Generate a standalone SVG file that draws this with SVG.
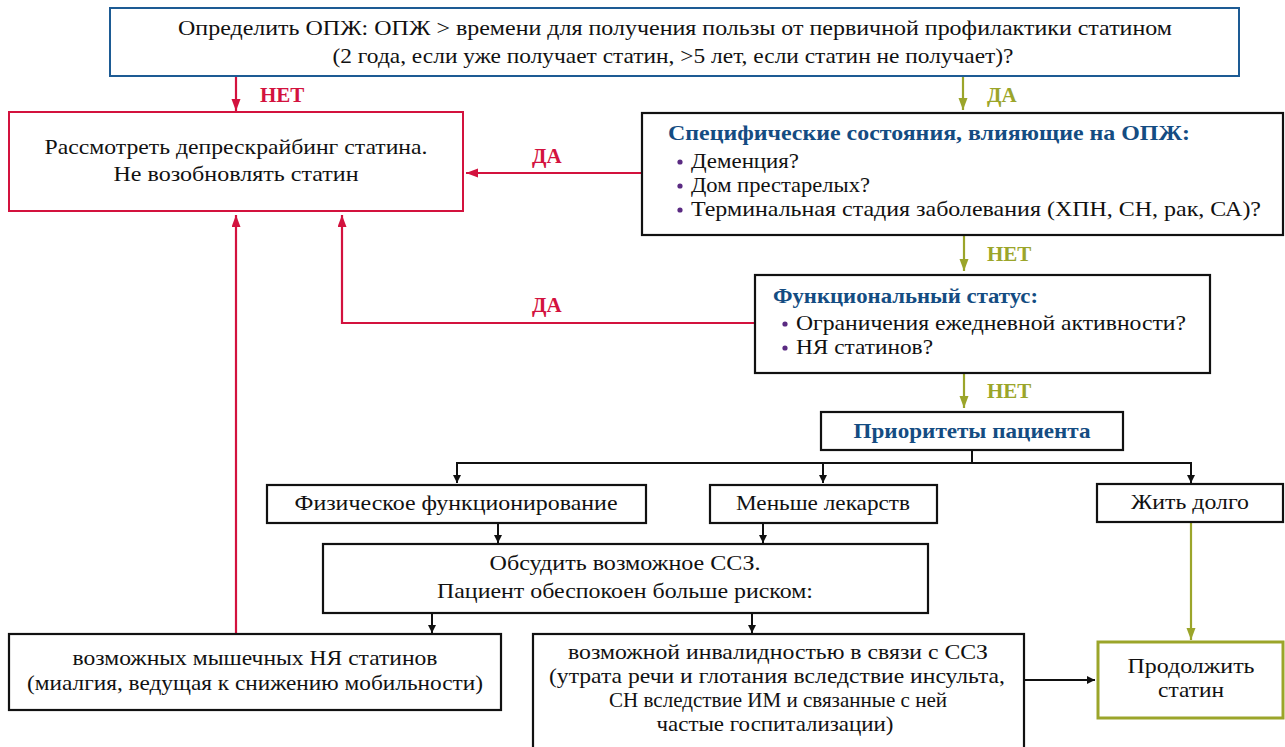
<svg xmlns="http://www.w3.org/2000/svg" width="1285" height="747" viewBox="0 0 1285 747" font-family="'Liberation Serif', 'DejaVu Serif', serif">
<style>
text{font-family:'Liberation Serif','DejaVu Serif',serif;font-size:21px;fill:#111}
.c{text-anchor:middle}
.box{fill:#fff;stroke:#111;stroke-width:2.2}
.red{fill:#fff;stroke:#d3123e;stroke-width:2}
.blue{fill:#fff;stroke:#1d5b94;stroke-width:2}
.grn{fill:#fff;stroke:#9ba52a;stroke-width:3}
.t{font-weight:bold;fill:#144c82}
.lr{font-weight:bold;fill:#d3123e}
.lg{font-weight:bold;fill:#9ba52a}
.dot{fill:#5a2a82}
.k{fill:none;stroke:#111;stroke-width:2}
.r{fill:none;stroke:#d3123e;stroke-width:2.2}
.g{fill:none;stroke:#9ba52a;stroke-width:2.2}
</style>
<defs>
<marker id="ak" markerWidth="10" markerHeight="10" refX="8" refY="4" orient="auto" markerUnits="userSpaceOnUse"><path d="M0,0 L8,4 L0,8 z" fill="#111"/></marker>
<marker id="ar" markerWidth="14" markerHeight="10" refX="12" refY="4.5" orient="auto" markerUnits="userSpaceOnUse"><path d="M0,0 L12,4.5 L0,9 z" fill="#d3123e"/></marker>
<marker id="ag" markerWidth="14" markerHeight="10" refX="12" refY="4.5" orient="auto" markerUnits="userSpaceOnUse"><path d="M0,0 L12,4.5 L0,9 z" fill="#9ba52a"/></marker>
</defs>

<g id="connectors">
<path class="r" d="M236,76 V111" marker-end="url(#ar)"/>
<path class="g" d="M963,76 V110" marker-end="url(#ag)"/>
<path class="r" d="M642,173 H466" marker-end="url(#ar)"/>
<path class="g" d="M964,235 V271" marker-end="url(#ag)"/>
<path class="r" d="M755,323 H342 V215" marker-end="url(#ar)"/>
<path class="g" d="M964,373 V408" marker-end="url(#ag)"/>
<path class="k" d="M972,450 V463"/>
<path class="k" d="M456,463 H1192"/>
<path class="k" d="M457,463 V483" marker-end="url(#ak)"/>
<path class="k" d="M823,463 V483" marker-end="url(#ak)"/>
<path class="k" d="M1191,463 V483" marker-end="url(#ak)"/>
<path class="k" d="M498,523 V543" marker-end="url(#ak)"/>
<path class="k" d="M763,523 V543" marker-end="url(#ak)"/>
<path class="k" d="M432,613 V633" marker-end="url(#ak)"/>
<path class="k" d="M752,613 V633" marker-end="url(#ak)"/>
<path class="k" d="M1024,680 H1095" marker-end="url(#ak)"/>
<path class="g" d="M1191,522 V640" marker-end="url(#ag)"/>
<path class="r" d="M236,634 V215" marker-end="url(#ar)"/>
<text class="lr" x="260" y="102">НЕТ</text>
<text class="lg" x="987" y="102">ДА</text>
<text class="lr" x="532" y="163">ДА</text>
<text class="lg" x="987" y="261">НЕТ</text>
<text class="lr" x="532" y="312">ДА</text>
<text class="lg" x="987" y="398">НЕТ</text>
</g>

<g id="top">
<rect class="blue" x="110" y="8" width="1129" height="68"/>
<text class="c" x="675" y="35" textLength="994" lengthAdjust="spacingAndGlyphs">Определить ОПЖ: ОПЖ &gt; времени для получения пользы от первичной профилактики статином</text>
<text class="c" x="673" y="63" textLength="681" lengthAdjust="spacingAndGlyphs">(2 года, если уже получает статин, &gt;5 лет, если статин не получает)?</text>
</g>

<g id="deprescribe">
<rect class="red" x="9" y="112" width="454" height="99"/>
<text class="c" x="236" y="154" textLength="383" lengthAdjust="spacingAndGlyphs">Рассмотреть депрескрайбинг статина.</text>
<text class="c" x="236" y="181" textLength="245" lengthAdjust="spacingAndGlyphs">Не возобновлять статин</text>
</g>

<g id="specific">
<rect class="box" x="642" y="113" width="641" height="122"/>
<text class="t" x="668" y="140" textLength="522" lengthAdjust="spacingAndGlyphs">Специфические состояния, влияющие на ОПЖ:</text>
<circle class="dot" cx="680" cy="162" r="2.6"/>
<text x="691" y="168" textLength="108" lengthAdjust="spacingAndGlyphs">Деменция?</text>
<circle class="dot" cx="680" cy="186" r="2.6"/>
<text x="691" y="192" textLength="179" lengthAdjust="spacingAndGlyphs">Дом престарелых?</text>
<circle class="dot" cx="680" cy="210" r="2.6"/>
<text x="691" y="216" textLength="570" lengthAdjust="spacingAndGlyphs">Терминальная стадия заболевания (ХПН, СН, рак, СА)?</text>
</g>

<g id="functional">
<rect class="box" x="755" y="275" width="455" height="98"/>
<text class="t" x="773" y="303" textLength="265" lengthAdjust="spacingAndGlyphs">Функциональный статус:</text>
<circle class="dot" cx="785" cy="324" r="2.6"/>
<text x="796" y="330" textLength="390" lengthAdjust="spacingAndGlyphs">Ограничения ежедневной активности?</text>
<circle class="dot" cx="785" cy="348" r="2.6"/>
<text x="796" y="354" textLength="137" lengthAdjust="spacingAndGlyphs">НЯ статинов?</text>
</g>

<g id="priorities">
<rect class="box" x="821" y="412" width="302" height="38"/>
<text class="t c" x="972" y="438" textLength="237" lengthAdjust="spacingAndGlyphs">Приоритеты пациента</text>
</g>

<g id="physical">
<rect class="box" x="267" y="485" width="379" height="38"/>
<text class="c" x="456" y="510" textLength="323" lengthAdjust="spacingAndGlyphs">Физическое функционирование</text>
</g>

<g id="fewer">
<rect class="box" x="710" y="485" width="227" height="38"/>
<text class="c" x="823" y="510" textLength="174" lengthAdjust="spacingAndGlyphs">Меньше лекарств</text>
</g>

<g id="live">
<rect class="box" x="1097" y="484" width="186" height="38"/>
<text class="c" x="1190" y="509" textLength="118" lengthAdjust="spacingAndGlyphs">Жить долго</text>
</g>

<g id="discuss">
<rect class="box" x="323" y="544" width="605" height="69"/>
<text class="c" x="625" y="570" textLength="271" lengthAdjust="spacingAndGlyphs">Обсудить возможное ССЗ.</text>
<text class="c" x="625" y="598" textLength="376" lengthAdjust="spacingAndGlyphs">Пациент обеспокоен больше риском:</text>
</g>

<g id="muscle">
<rect class="box" x="9" y="634" width="492" height="76"/>
<text class="c" x="255" y="665" textLength="365" lengthAdjust="spacingAndGlyphs">возможных мышечных НЯ статинов</text>
<text class="c" x="255" y="690" textLength="456" lengthAdjust="spacingAndGlyphs">(миалгия, ведущая к снижению мобильности)</text>
</g>

<g id="disability">
<rect class="box" x="533" y="634" width="491" height="130"/>
<text class="c" x="778" y="659" textLength="420" lengthAdjust="spacingAndGlyphs">возможной инвалидностью в связи с ССЗ</text>
<text class="c" x="777" y="683" textLength="456" lengthAdjust="spacingAndGlyphs">(утрата речи и глотания вследствие инсульта,</text>
<text class="c" x="778" y="707" textLength="338" lengthAdjust="spacingAndGlyphs">СН вследствие ИМ и связанные с ней</text>
<text class="c" x="775" y="731" textLength="237" lengthAdjust="spacingAndGlyphs">частые госпитализации)</text>
</g>

<g id="continue">
<rect class="grn" x="1098" y="642" width="185" height="76"/>
<text class="c" x="1191" y="673" textLength="127" lengthAdjust="spacingAndGlyphs">Продолжить</text>
<text class="c" x="1191" y="697" textLength="66" lengthAdjust="spacingAndGlyphs">статин</text>
</g>
</svg>
